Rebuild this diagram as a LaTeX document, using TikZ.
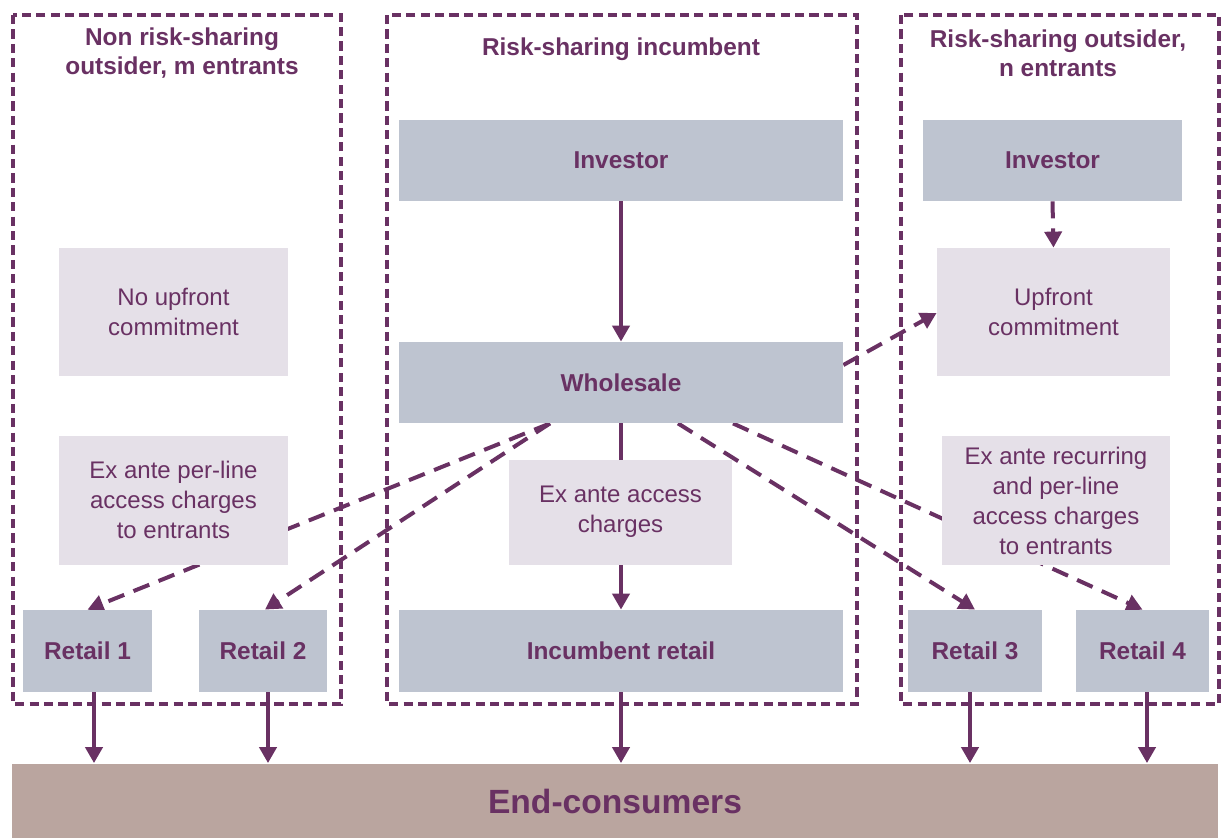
\documentclass[tikz,border=0pt]{standalone}
\usepackage{fontspec}
\setmainfont{Liberation Sans}
\usetikzlibrary{arrows.meta}
\definecolor{plum}{HTML}{693163}
\definecolor{darkbox}{HTML}{BEC4D0}
\definecolor{lightbox}{HTML}{E5E0E8}
\definecolor{endbox}{HTML}{BAA59F}
\pgfdeclarelayer{bg}
\pgfsetlayers{bg,main}
\tikzset{
  dbox/.style={fill=darkbox, draw=none, inner sep=0pt, text=plum, font=\fontsize{12.2}{14.5}\selectfont\bfseries, align=center},
  lbox/.style={fill=lightbox, draw=none, inner sep=0pt, text=plum, font=\fontsize{12}{15}\selectfont, align=center},
  frame/.style={draw=plum, line width=1.8pt, dash pattern=on 4.6pt off 2.6pt},
  title/.style={text=plum, font=\fontsize{12.2}{14.5}\selectfont\bfseries, align=center},
  solidarr/.style={draw=plum, line width=2pt, -{Triangle[width=8.5pt,length=8pt]}},
  dasharr/.style={draw=plum, line width=2pt, dash pattern=on 8.5pt off 5pt, -{Triangle[width=8.5pt,length=8pt]}},
}
\begin{document}
\begin{tikzpicture}[x=0.5pt, y=-0.5pt]
\useasboundingbox (0,0) rectangle (1223,837);
% frames
\begin{pgfonlayer}{bg}
\draw[frame] (13,15) rectangle (341,704);
\draw[frame] (387,15) rectangle (857,704);
\draw[frame] (901,15) rectangle (1219,704);
\end{pgfonlayer}
% titles
\node[title] (t1) at (182,53) {Non risk-sharing\\outsider, m entrants};
\node[title] (t2) at (621,49) {Risk-sharing incumbent};
\node[title] (t3) at (1058,53) {Risk-sharing outsider,\\n entrants};
% dark boxes
\node[dbox, minimum width=222pt, minimum height=40.5pt] (invm) at (621,160.5) {Investor};
\node[dbox, minimum width=222pt, minimum height=40.5pt] (whole) at (621,382.5) {Wholesale};
\node[dbox, minimum width=222pt, minimum height=41pt] (incr) at (621,651) {Incumbent retail};
\node[dbox, minimum width=64.5pt, minimum height=41pt] (r1) at (87.5,651) {Retail 1};
\node[dbox, minimum width=64pt, minimum height=41pt] (r2) at (263,651) {Retail 2};
\node[dbox, minimum width=129.5pt, minimum height=40.5pt] (invr) at (1052.5,160.5) {Investor};
\node[dbox, minimum width=67pt, minimum height=41pt] (r3) at (975,651) {Retail 3};
\node[dbox, minimum width=66.5pt, minimum height=41pt] (r4) at (1142.5,651) {Retail 4};
% light boxes
\node[lbox, minimum width=111.5pt, minimum height=52.5pt] (exacc) at (620.5,512) {Ex ante access\\charges};
\node[lbox, minimum width=114.5pt, minimum height=64pt] (noup) at (173.5,312) {No upfront\\commitment};
\node[lbox, minimum width=114.5pt, minimum height=64.5pt] (perline) at (173.5,500) {Ex ante per-line\\access charges\\to entrants};
\node[lbox, minimum width=116.5pt, minimum height=64pt] (upf) at (1053.5,312) {Upfront\\commitment};
\node[lbox, minimum width=114pt, minimum height=64.5pt] (recur) at (1056,500.5) {Ex ante recurring\\and per-line\\access charges\\to entrants};
% end consumers
\node[fill=endbox, draw=none, inner sep=0pt, minimum width=603pt, minimum height=37.5pt, text=plum, font=\fontsize{16.8}{19}\selectfont\bfseries] (endc) at (615,801) {End-consumers};
% connectors
\begin{pgfonlayer}{bg}
\draw[solidarr] (invm.south) -- (whole.north);
\draw[solidarr] (whole.south) -- (incr.north);
\draw[dasharr] (invr.south) -- (upf.north);
\draw[dasharr] ([xshift=-35.5pt]whole.south) -- (r1.north);
\draw[dasharr] ([xshift=-35.5pt]whole.south) -- ([xshift=1pt]r2.north);
\draw[dasharr] ([xshift=28.5pt]whole.south) -- (r3.north);
\draw[dasharr] ([xshift=56pt]whole.south) -- (r4.north);
\draw[dasharr] ([yshift=8.75pt]whole.east) -- ([yshift=-0.5pt]upf.west);
\draw[solidarr] ([xshift=3.25pt]r1.south) -- ([xshift=3.25pt]r1.south |- endc.north);
\draw[solidarr] ([xshift=2.5pt]r2.south) -- ([xshift=2.5pt]r2.south |- endc.north);
\draw[solidarr] (incr.south) -- (incr.south |- endc.north);
\draw[solidarr] ([xshift=-2.5pt]r3.south) -- ([xshift=-2.5pt]r3.south |- endc.north);
\draw[solidarr] ([xshift=2.25pt]r4.south) -- ([xshift=2.25pt]r4.south |- endc.north);
\end{pgfonlayer}
\end{tikzpicture}
\end{document}
